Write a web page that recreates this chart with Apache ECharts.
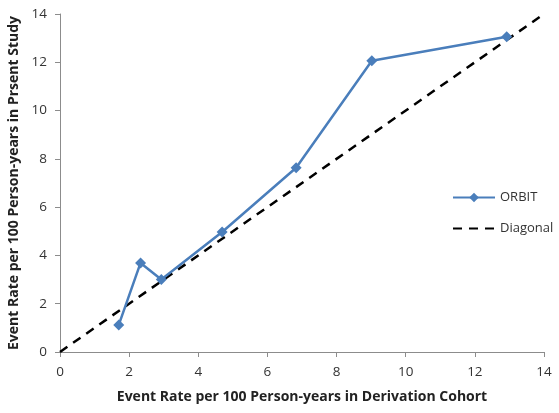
<!DOCTYPE html>
<html><head><meta charset="utf-8">
<script src="https://cdn.jsdelivr.net/npm/echarts@6/dist/echarts.min.js"></script>
<style>html,body{margin:0;padding:0;background:#fff}#c{width:559px;height:413px}</style>
</head><body><div id="c"></div>
<script>
const orbitX = [1.70, 2.33, 2.93, 4.69, 6.83, 9.02, 12.92];
const orbitY = [1.12, 3.69, 3.00, 4.97, 7.63, 12.06, 13.06];
const diagX = [0, 14];
const diagY = [0, 14];
const xTicks = [0, 2, 4, 6, 8, 10, 12, 14];
const yTicks = [0, 2, 4, 6, 8, 10, 12, 14];
const seriesNames = ['ORBIT', 'Diagonal'];
const xName = 'Event Rate per 100 Person-years in Derivation Cohort';
const yName = 'Event Rate per 100 Person-years in Prsent Study';

const font = 'Open Sans';
const axisCommon = {
  type: 'value', min: xTicks[0], max: xTicks[xTicks.length - 1], interval: 2,
  axisLine: {show: true, lineStyle: {color: '#8c8c8c', width: 1}},
  axisTick: {show: true, length: 5, lineStyle: {color: '#8c8c8c'}},
  splitLine: {show: false},
  axisLabel: {color: '#333', fontSize: 13.5, fontFamily: font},
  nameLocation: 'middle',
  nameTextStyle: {color: '#222', fontSize: 14, fontWeight: 'bold', fontFamily: font}
};
const chart = echarts.init(document.getElementById('c'));
chart.setOption({
  animation: false,
  grid: {left: 60, right: 15, top: 14, bottom: 61, containLabel: false, outerBoundsMode: 'none'},
  xAxis: Object.assign({}, axisCommon, {name: xName, nameGap: 38, axisLabel: Object.assign({}, axisCommon.axisLabel, {margin: 13})}),
  yAxis: Object.assign({}, axisCommon, {name: yName, nameGap: 38, axisLabel: Object.assign({}, axisCommon.axisLabel, {margin: 13})}),
  legend: {
    orient: 'vertical', left: 447, top: 186, itemWidth: 42, itemHeight: 12, itemGap: 18,
    textStyle: {color: '#333', fontSize: 13, fontFamily: font},
    data: [{name: seriesNames[0]}, {name: seriesNames[1], itemStyle: {opacity: 0}}]
  },
  series: [
    {name: seriesNames[0], type: 'line', data: orbitX.map((x, i) => [x, orbitY[i]]),
     symbol: 'diamond', symbolSize: 11,
     lineStyle: {color: '#4a7ebb', width: 2.5}, itemStyle: {color: '#4a7ebb'}, z: 3},
    {name: seriesNames[1], type: 'line', data: diagX.map((x, i) => [x, diagY[i]]),
     symbol: 'none', lineStyle: {color: '#000', width: 2.5, type: [9, 7]}, itemStyle: {color: '#000'}, z: 2}
  ]
});
</script></body></html>
